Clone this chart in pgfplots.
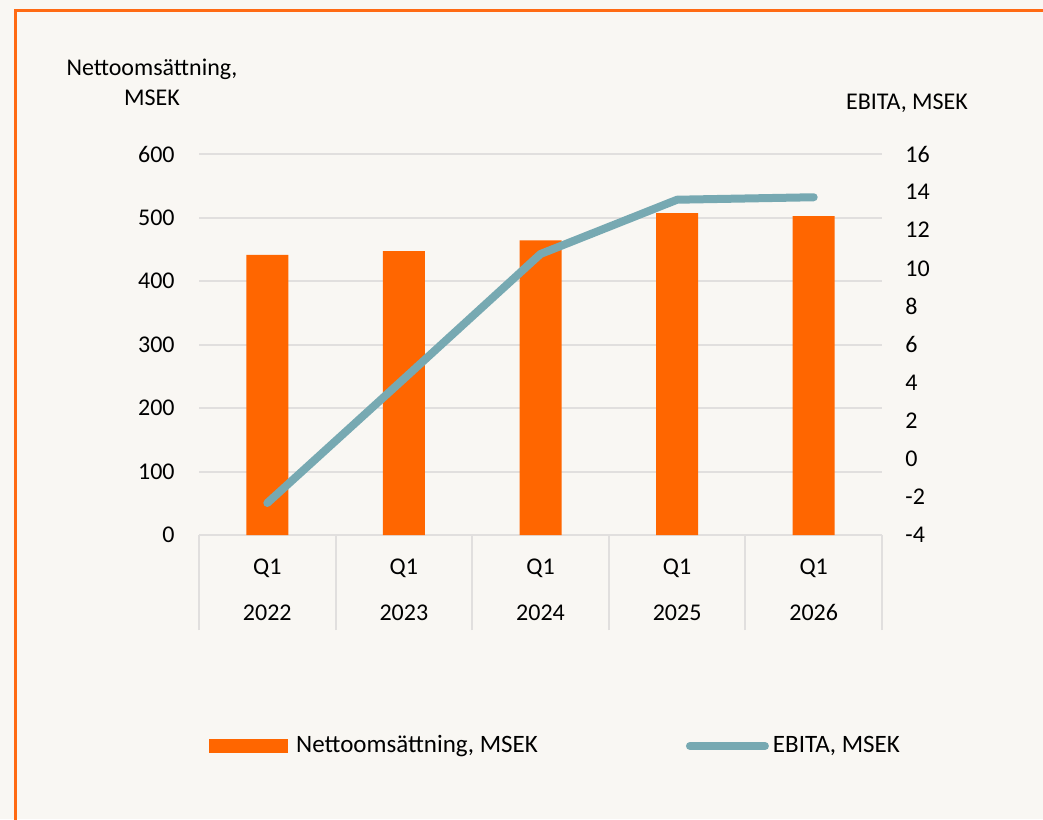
\documentclass[border=0pt]{standalone}
\usepackage{fontspec}
\setmainfont{Carlito}
\usepackage{pgfplots}
\pgfplotsset{compat=1.18}
\definecolor{bg}{HTML}{F9F7F3}
\definecolor{barc}{HTML}{FF6600}
\definecolor{ebita}{HTML}{77A9B2}
\definecolor{gridc}{HTML}{E1DFDE}
\definecolor{framec}{HTML}{FF6A13}
\pgfplotsset{
  ebitalegend/.style={legend image code/.code={\draw[##1] (0pt,0pt) -- (37.5pt,0pt);}},
  barlegend/.style={legend image code/.code={\fill[barc] (0pt,-3.25pt) rectangle (39pt,3.25pt); \path (41pt,0pt);}},
}
\begin{document}
\fontsize{12}{14.4}\selectfont
\begin{tikzpicture}
\useasboundingbox (0,0) rectangle (521.5pt,-409.5pt);
\fill[bg] (0,0) rectangle (521.5pt,-409.5pt);
\draw[framec, line width=1.5pt] (7.75pt,-412pt) -- (7.75pt,-5.25pt) -- (523pt,-5.25pt);
\node[align=center, font=\fontsize{12}{15}\selectfont] at (76pt,-41pt) {Nettoomsättning,\\MSEK};
\node[font=\fontsize{12}{15}\selectfont] at (453.5pt,-51.5pt) {EBITA, MSEK};
\begin{axis}[
  scale only axis, width=341.5pt, height=190.5pt,
  at={(99.5pt,-267.5pt)}, anchor=south west,
  xmin=-0.5, xmax=4.5, ymin=0, ymax=600,
  axis line style={draw=none},
  xtick={0,1,2,3,4},
  xticklabels={{Q1\\[8.6pt]2022},{Q1\\[8.6pt]2023},{Q1\\[8.6pt]2024},{Q1\\[8.6pt]2025},{Q1\\[8.6pt]2026}},
  ytick={0,100,...,600},
  ymajorgrids, grid style={gridc, line width=1pt},
  major tick length=0pt,
  ytick pos=left, xtick pos=lower,
  yticklabel style={inner sep=0pt, xshift=-12pt},
  xticklabel style={align=center, inner sep=0pt, yshift=-12pt},
  extra x ticks={-0.5,0.5,1.5,2.5,3.5,4.5},
  extra x tick labels={},
  extra x tick style={grid=none, major tick length=47.5pt, tick align=outside, tick style={draw=gridc, line width=1pt}},
  /pgf/number format/assume math mode=true,
  tick label style={font=\fontsize{12}{14.4}\selectfont},
]
\addplot[ybar, bar width=21pt, bar shift=0pt, fill=barc, draw=none] coordinates {(0,441) (1,447) (2,464) (3,507) (4,502)};
\end{axis}
\begin{axis}[
  scale only axis, width=341.5pt, height=190.5pt,
  at={(99.5pt,-267.5pt)}, anchor=south west,
  xmin=-0.5, xmax=4.5, ymin=-4, ymax=16,
  axis line style={draw=none},
  hide x axis,
  ytick={-4,-2,...,16},
  ytick pos=right, yticklabel pos=right,
  major tick length=0pt,
  yticklabel style={inner sep=0pt, xshift=11.5pt, anchor=west},
  /pgf/number format/assume math mode=true,
  tick label style={font=\fontsize{12}{14.4}\selectfont},
  legend columns=2,
  legend style={at={(axis description cs:0.0146,-0.5538)}, anchor=west, draw=none, fill=none, inner sep=0pt,
    font=\fontsize{12.5}{15}\selectfont,
    /tikz/every even column/.append style={column sep=72pt}},
]
\addlegendimage{barlegend}
\addlegendentry{Nettoomsättning, MSEK}
\addplot[ebita, line width=4pt, line cap=round, line join=round, ebitalegend] coordinates {(0,-2.32) (1,4.2) (2,10.75) (3,13.6) (4,13.73)};
\addlegendentry{EBITA, MSEK}
\end{axis}
\end{tikzpicture}
\end{document}
